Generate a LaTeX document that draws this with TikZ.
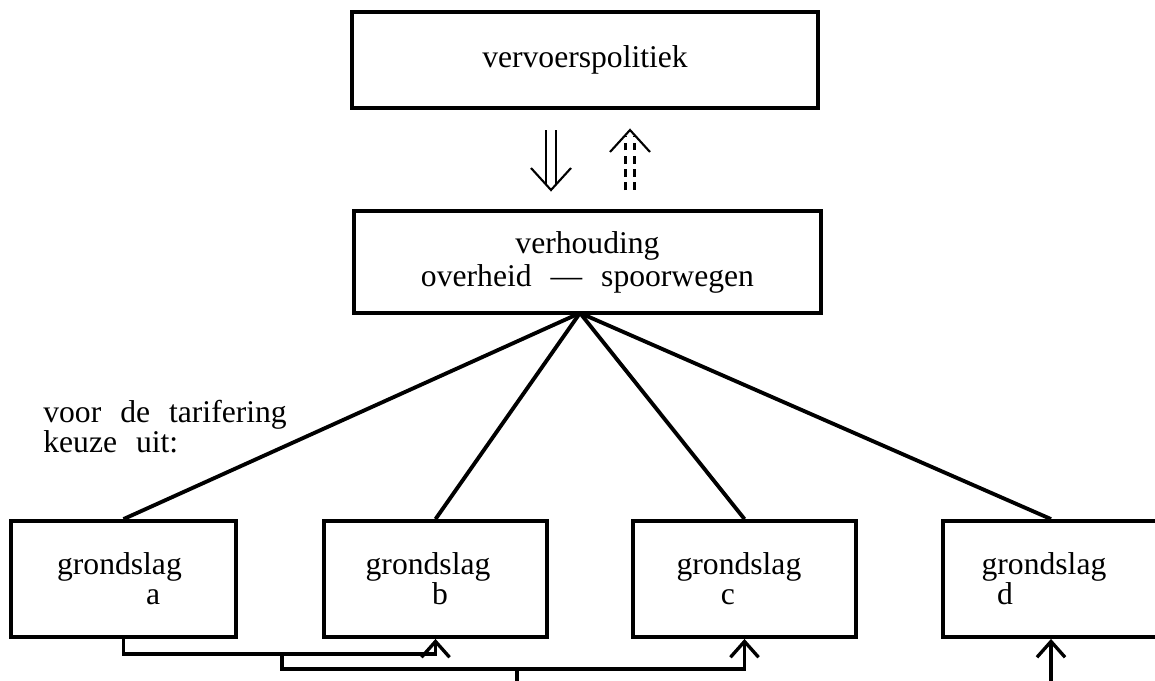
\documentclass[tikz,border=0pt]{standalone}
\usepackage{fontspec}
\setmainfont{Liberation Serif}
\usetikzlibrary{arrows.meta}
\usetikzlibrary{calc}
\newcommand\tekstfont{\fontsize{18}{17}\selectfont\spaceskip=0.6em\relax}

\begin{document}
\begin{tikzpicture}[x=0.02cm, y=-0.02cm, font=\tekstfont,
		blok/.style={draw, line width=2.2pt, inner sep=0pt, align=center},
		lijn/.style={line width=2.2pt},
		pijl/.style={line width=1.9pt, -{Straight Barb[length=9pt, width=16pt]}},
		dubbel/.style={double, double distance=5pt, line width=1.1pt},
		punt/.style={line width=1.2pt}]
		\clip (0, 0) rectangle (1155, 680);
		
		\node [blok, minimum width=9.32cm, minimum height=1.92cm] (beleid) at (585, 60) {vervoerspolitiek}; % Bovenste blok
		\node [blok, minimum width=9.34cm, minimum height=2.04cm] (verhouding) at (587.5, 262) {verhouding\\[1.8pt]overheid — spoorwegen};
		
		\node [blok, minimum width=4.5cm, minimum height=2.32cm] (ga) at (123.5, 579) {grondslag\hspace*{4.6pt}\\\hspace*{33.6pt}a}; % De grondslagen
		\node [blok, minimum width=4.46cm, minimum height=2.32cm] (gb) at (435.5, 579) {grondslag\hspace*{8.5pt}\\\hspace*{5.1pt}b};
		\node [blok, minimum width=4.46cm, minimum height=2.32cm] (gc) at (744.5, 579) {grondslag\hspace*{6.3pt}\\c\hspace*{18.8pt}};
		\node [blok, minimum width=4.32cm, minimum height=2.32cm] (gd) at (1051, 579) {grondslag\hspace*{8pt}\\d\hspace*{52.3pt}};
		
		\node [align=left, anchor=base west, inner sep=0pt] (keuze) at (43, 452) {voor de tarifering\\keuze uit:};
		
		% Dubbele pijlen tussen de bovenste blokken
		\coordinate (neer) at (551, 130);
		\coordinate (neerpunt) at (551, 190);
		\draw [dubbel] (neer) -- ($(neerpunt)+(0, -6)$);
		\draw [punt] ($(neerpunt)+(-20, -22)$) -- (neerpunt) -- ($(neerpunt)+(20, -22)$);
		\coordinate (op) at (630, 190);
		\coordinate (oppunt) at (630, 130);
		\draw [dubbel, line width=1.5pt, double distance=3.5pt, dash pattern=on 4.5pt off 3pt] (op) -- ($(oppunt)+(0, 6)$);
		\draw [punt] ($(oppunt)+(-20, 22)$) -- (oppunt) -- ($(oppunt)+(20, 22)$);
		
		\coordinate (knoop) at (580, 313); % Lijnen naar de grondslagen
		\draw [lijn] (knoop) -- (ga.north);
		\draw [lijn] (knoop) -- (gb.north);
		\draw [lijn] (knoop) -- (gc.north);
		\draw [lijn] (knoop) -- (gd.north);
		
		\draw [pijl] (ga.south) -- ++(0, 15) -| (gb.south); % Verbindingen onder
		\coordinate (splits) at (282, 653);
		\draw [pijl] (splits) -- ++(0, 16) -| (gc.south);
		\coordinate (stam) at (517, 669);
		\draw [line width=1.9pt] (stam) -- ++(0, 20);
		\coordinate (vanonder) at (1051, 690);
		\draw [pijl] (vanonder) -- (gd.south);
	\end{tikzpicture}
\end{document}
